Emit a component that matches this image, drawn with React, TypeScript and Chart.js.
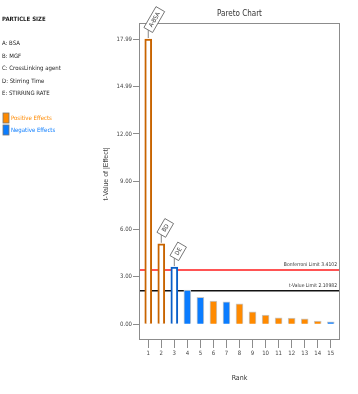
import { useEffect, useRef } from "react";
import { Chart, registerables } from "chart.js";

Chart.register(...registerables);

const ranks = [1, 2, 3, 4, 5, 6, 7, 8, 9, 10, 11, 12, 13, 14, 15];
const termLabels = ["A-BSA", "BD", "DE", "", "", "", "", "", "", "", "", "", "", "", ""];
const tValues = [17.99, 5.07, 3.6, 2.15, 1.7, 1.45, 1.41, 1.28, 0.78, 0.57, 0.4, 0.38, 0.33, 0.19, 0.15];
const effectSigns = ["+", "+", "-", "-", "-", "+", "-", "+", "+", "+", "+", "+", "+", "+", "-"];
const yTickValues = [0, 3, 6, 9, 12, 14.99, 17.99];
const bonferroniLimit = 3.4102;
const tValueLimit = 2.10982;
const legendTitle = "PARTICLE SIZE";
const factorNames = ["A: BSA", "B: MGF", "C: CrossLinking agent", "D: Stirring Time", "E: STIRRING RATE"];
const legendItems = ["Positive Effects", "Negative Effects"];

const ORANGE = "#ff8a00";
const ORANGE_DARK = "#c86400";
const BLUE = "#0a7cff";
const BLUE_DARK = "#0a5fc8";
const NARROW = "'Liberation Sans Narrow', 'DejaVu Sans Condensed', 'Liberation Sans', sans-serif";
const REG = "'Liberation Sans', Arial, sans-serif";

export default function App() {
  const ref = useRef<HTMLCanvasElement | null>(null);

  useEffect(() => {
    const canvas = ref.current;
    if (!canvas) return;

    const hollow = termLabels.map((t) => t !== "");
    const bg = effectSigns.map((s, i) => (hollow[i] ? "#ffffff" : s === "+" ? ORANGE : BLUE));
    const bc = effectSigns.map((s, i) =>
      hollow[i] ? (s === "+" ? ORANGE_DARK : BLUE_DARK) : "#c9c9c9"
    );
    const bw = hollow.map((h) => (h ? 2 : 1));

    const overlay = {
      id: "overlay",
      beforeDatasetsDraw(chart: any) {
        const ctx = chart.ctx;
        const ca = chart.chartArea;
        const ys = chart.scales.y;
        ctx.save();
        const drawLimit = (v: number, color: string, label: string) => {
          const y = ys.getPixelForValue(v);
          ctx.strokeStyle = color;
          ctx.lineWidth = 1.5;
          ctx.beginPath();
          ctx.moveTo(ca.left, y);
          ctx.lineTo(ca.right, y);
          ctx.stroke();
          ctx.fillStyle = "#333";
          ctx.font = "5px " + NARROW;
          ctx.textAlign = "right";
          ctx.textBaseline = "bottom";
          ctx.fillText(label, ca.right - 3, y - 3);
        };
        drawLimit(bonferroniLimit, "#ff1a1a", "Bonferroni Limit " + bonferroniLimit);
        drawLimit(tValueLimit, "#111111", "t-Value Limit " + tValueLimit);
        ctx.restore();
      },
      afterDraw(chart: any) {
        const ctx = chart.ctx;
        const ca = chart.chartArea;
        ctx.save();
        // plot box
        ctx.strokeStyle = "#8c8c8c";
        ctx.lineWidth = 1;
        ctx.strokeRect(ca.left + 0.5, ca.top + 0.5, ca.right - ca.left - 1, ca.bottom - ca.top - 1);

        // title
        ctx.fillStyle = "#333";
        ctx.font = "8px " + NARROW;
        ctx.textAlign = "center";
        ctx.textBaseline = "middle";
        ctx.fillText("Pareto Chart", (ca.left + ca.right) / 2, 14);

        // x title
        ctx.font = "7px " + NARROW;
        ctx.fillText("Rank", (ca.left + ca.right) / 2, 378);

        // y title
        ctx.save();
        ctx.translate(106, 174);
        ctx.rotate(-Math.PI / 2);
        ctx.font = "7px " + REG;
        ctx.fillStyle = "#444";
        ctx.fillText("t-Value of |Effect|", 0, 0);
        ctx.restore();

        // annotations
        const meta = chart.getDatasetMeta(0);
        termLabels.forEach((t, i) => {
          if (!t) return;
          const el = meta.data[i];
          const x = el.x;
          const top = el.y;
          const ay = top - 9;
          ctx.strokeStyle = "#666";
          ctx.lineWidth = 0.8;
          ctx.beginPath();
          ctx.moveTo(x, top - 1);
          ctx.lineTo(x, ay);
          ctx.stroke();
          ctx.save();
          ctx.translate(x, ay);
          ctx.rotate((-60 * Math.PI) / 180);
          ctx.font = "6px " + NARROW;
          const w = ctx.measureText(t).width + 8;
          ctx.fillStyle = "#fff";
          ctx.beginPath();
          ctx.rect(0, -5, w, 10);
          ctx.fill();
          ctx.stroke();
          ctx.fillStyle = "#333";
          ctx.textAlign = "left";
          ctx.textBaseline = "middle";
          ctx.fillText(t, 4, 0.5);
          ctx.restore();
        });

        // left legend
        ctx.textAlign = "left";
        ctx.textBaseline = "middle";
        ctx.fillStyle = "#222";
        ctx.font = "bold 6px " + NARROW;
        ctx.fillText(legendTitle, 2, 19);
        ctx.font = "6px " + NARROW;
        const fy = [43, 56, 68.5, 81, 93.3];
        factorNames.forEach((f, i) => ctx.fillText(f, 2, fy[i]));
        const ly = [118, 130];
        const lc = [ORANGE, BLUE];
        legendItems.forEach((l, i) => {
          ctx.fillStyle = lc[i];
          ctx.fillRect(3, ly[i] - 5, 6, 10);
          ctx.strokeStyle = "#777";
          ctx.lineWidth = 0.8;
          ctx.strokeRect(3, ly[i] - 5, 6, 10);
          ctx.fillStyle = lc[i];
          ctx.fillText(l, 11, ly[i]);
        });
        ctx.restore();
      },
    };

    const chart = new Chart(canvas, {
      type: "bar",
      data: {
        datasets: [
          {
            data: ranks.map((r, i) => ({ x: r, y: tValues[i] })),
            backgroundColor: bg,
            borderColor: bc,
            borderWidth: bw,
            barThickness: 7,
          },
        ],
      },
      options: {
        responsive: false,
        animation: false,
        layout: { padding: { top: 23, right: 18, left: 0, bottom: 0 } },
        plugins: { legend: { display: false }, title: { display: false }, tooltip: { enabled: false } },
        scales: {
          x: {
            type: "linear",
            min: 0.29,
            max: 15.71,
            offset: false,
            afterBuildTicks: (s: any) => {
              s.ticks = ranks.map((v) => ({ value: v }));
            },
            afterFit: (s: any) => {
              s.height = 54;
            },
            ticks: {
              autoSkip: false,
              maxRotation: 0,
              padding: 2,
              color: "#444",
              font: { size: 6, family: NARROW },
              callback: (v: any) => String(v),
            },
            grid: { drawOnChartArea: false, offset: false, tickLength: 8, color: "#8c8c8c" },
            border: { display: false },
          },
          y: {
            type: "linear",
            min: -1,
            max: 19,
            afterBuildTicks: (s: any) => {
              s.ticks = yTickValues.map((v) => ({ value: v }));
            },
            afterFit: (s: any) => {
              s.width = 139;
            },
            ticks: {
              padding: 1,
              color: "#444",
              font: { size: 6, family: NARROW },
              callback: (v: any) => Number(v).toFixed(2),
            },
            grid: { drawOnChartArea: false, tickLength: 6, color: "#8c8c8c" },
            border: { display: false },
          },
        },
      },
      plugins: [overlay],
    } as any);

    return () => chart.destroy();
  }, []);

  return (
    <div style={{ position: "fixed", left: 0, top: 0, width: 358, height: 394, background: "#fff" }}>
      <canvas ref={ref} width={358} height={394} style={{ display: "block" }} />
    </div>
  );
}
